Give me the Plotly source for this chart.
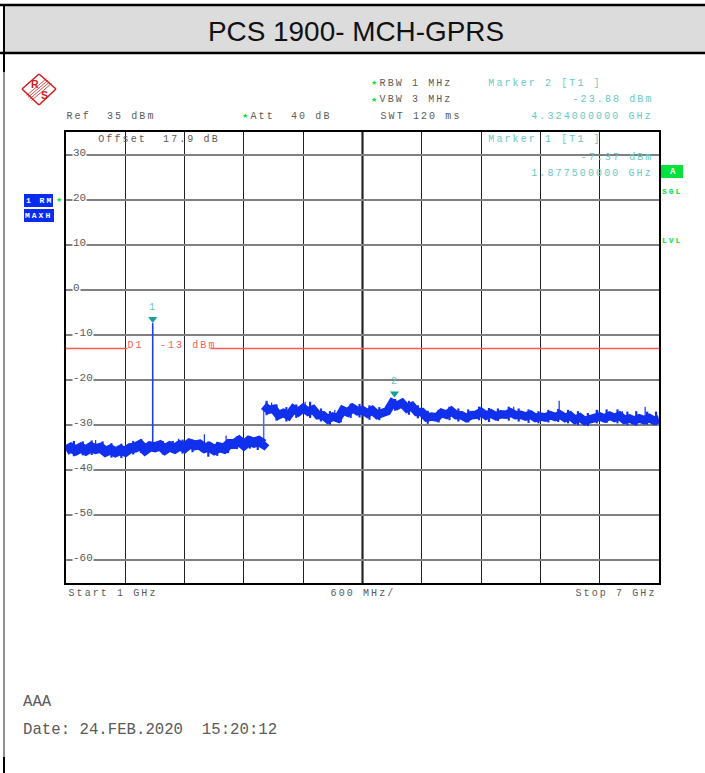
import plotly.graph_objects as go

W, H = 705, 773
L, R, T, B = 66, 659, 132, 583

title = "PCS 1900- MCH-GPRS"
x_range = [1, 7]
y_range = [-65, 35]
y_ticks = [30, 20, 10, 0, -10, -20, -30, -40, -50, -60]
limit_db = -13

low_freq = [1.00, 1.05, 1.10, 1.15, 1.20, 1.25, 1.30, 1.35, 1.40, 1.45, 1.50, 1.55, 1.60, 1.65,
            1.70, 1.75, 1.80, 1.85, 1.90, 1.95, 2.00, 2.05, 2.10, 2.15, 2.20, 2.25, 2.30, 2.35,
            2.40, 2.45, 2.50, 2.55, 2.60, 2.65, 2.70, 2.75, 2.80, 2.85, 2.90, 2.95, 3.00, 3.02]
low_db = [-35.6, -35.0, -35.6, -35.0, -35.6, -34.9, -35.3, -35.0, -35.9, -35.4, -36.0, -35.5, -35.9, -35.1,
          -35.0, -34.4, -35.5, -34.7, -34.9, -34.5, -35.4, -34.7, -35.2, -34.5, -35.0, -34.1, -34.5, -34.3,
          -35.1, -34.8, -35.5, -34.9, -35.2, -34.2, -34.2, -33.5, -34.4, -33.5, -33.9, -33.5, -34.2, -33.7]

high_freq = [3.00, 3.05, 3.10, 3.15, 3.20, 3.25, 3.30, 3.35, 3.40, 3.45, 3.50, 3.55, 3.60, 3.65, 3.70, 3.75,
             3.80, 3.85, 3.90, 3.95, 4.00, 4.05, 4.10, 4.15, 4.20, 4.25, 4.30, 4.35, 4.40, 4.45, 4.50, 4.55,
             4.60, 4.65, 4.70, 4.75, 4.80, 4.85, 4.90, 4.95, 5.00, 5.05, 5.10, 5.15, 5.20, 5.25, 5.30, 5.35,
             5.40, 5.45, 5.50, 5.55, 5.60, 5.65, 5.70, 5.75, 5.80, 5.85, 5.90, 5.95, 6.00, 6.05, 6.10, 6.15,
             6.20, 6.25, 6.30, 6.35, 6.40, 6.45, 6.50, 6.55, 6.60, 6.65, 6.70, 6.75, 6.80, 6.85, 6.90, 6.95, 7.00]
high_db = [-25.7, -26.6, -26.4, -27.8, -27.3, -27.9, -26.4, -27.1, -26.2, -27.0, -26.5, -27.8, -27.8, -28.7, -28.1, -28.5,
           -26.7, -27.2, -26.2, -26.9, -26.7, -27.4, -26.7, -27.7, -27.3, -26.9, -25.1, -25.7, -25.1, -26.3, -25.8, -27.1,
           -27.1, -28.3, -28.1, -28.3, -27.3, -27.7, -26.9, -27.8, -27.8, -28.4, -27.8, -27.7, -27.1, -27.9, -27.4, -28.0,
           -27.6, -27.7, -27.2, -27.8, -27.7, -28.1, -27.7, -28.4, -28.1, -28.3, -27.8, -28.2, -27.7, -28.4, -27.9, -28.8,
           -28.3, -29.1, -28.7, -28.6, -28.1, -28.5, -27.9, -28.4, -27.9, -28.8, -28.5, -29.0, -28.5, -28.9, -28.4, -29.0, -28.7]

# isolated samples standing out of the trace
spike_freq = [2.40, 2.62, 5.99, 6.86, 3.08, 5.20, 1.30, 3.42, 3.72, 5.53, 6.38, 6.63, 2.14]
spike_base = [-34.0, -33.5, -28.0, -28.5, -27.0, -27.5, -35.0, -26.5, -28.0, -27.5, -28.5, -28.5, -34.5]
spike_peak = [-32.0, -32.3, -24.6, -25.9, -25.0, -25.9, -33.3, -24.8, -26.6, -25.9, -26.7, -26.9, -33.0]

# top and bottom of the trace's noise at single frequencies
noise_freq = [1.08, 1.17, 1.26, 1.37, 1.46, 1.56, 1.68, 1.76, 1.98, 2.08, 2.18, 2.28, 2.44, 2.53, 2.64, 2.73, 2.86, 2.94,
              3.03, 3.13, 3.23, 3.33, 3.47, 3.58, 3.67, 3.78, 3.88, 3.97, 4.07, 4.17, 4.33, 4.47, 4.56, 4.66, 4.77, 4.88,
              4.97, 5.07, 5.18, 5.28, 5.37, 5.48, 5.58, 5.68, 5.78, 5.88, 5.98, 6.08, 6.18, 6.28, 6.37, 6.47, 6.58, 6.68,
              6.77, 6.88, 6.97]
noise_low = [-36.9, -36.7, -36.6, -36.6, -37.2, -37.3, -36.5, -36.2, -36.5, -36.2, -36.3, -36.0, -37.0, -36.8, -36.2, -35.3, -35.2, -35.5,
             -27.8, -29.0, -29.2, -28.4, -28.4, -29.2, -29.9, -29.4, -28.4, -28.3, -28.8, -28.9, -26.8, -27.7, -28.5, -29.7, -29.4, -28.9,
             -29.2, -29.4, -28.9, -29.3, -29.1, -29.0, -29.2, -29.5, -29.6, -29.4, -29.3, -29.6, -30.0, -30.2, -29.6, -29.5, -29.6, -30.0,
             -30.1, -29.9, -30.0]
noise_high = [-33.5, -33.6, -33.4, -33.6, -34.0, -34.1, -33.5, -33.1, -33.5, -33.5, -33.2, -33.2, -33.6, -33.7, -33.1, -32.5, -32.4, -32.6,
              -24.6, -25.4, -26.0, -25.4, -24.8, -26.3, -26.9, -26.5, -25.2, -25.3, -25.6, -26.0, -24.2, -24.6, -25.6, -26.8, -26.6, -25.9,
              -26.3, -26.5, -25.9, -26.2, -26.3, -25.9, -26.3, -26.5, -26.9, -26.6, -26.4, -26.6, -26.9, -27.3, -26.6, -26.5, -26.5, -27.0,
              -26.9, -27.0, -27.0]

jump_freq = [3.00, 3.00]
jump_db = [-33.5, -26.0]

marker_freq = [1.8775, 4.324]
marker_db = [-7.37, -23.88]
marker_base = [-34.0, -25.0]
marker_names = ["1", "2"]

GREY = "#5a5a5a"
CYAN = "#66c9c2"
RED = "#ff5a55"
GREEN = "#00e33c"
BLUE = "#1030ee"
MONO = "Liberation Mono"
SPACING = {10: 2.1, 8: 2.0}


def xp(px):
    return (px - L) / (R - L)


def yp(py):
    return 1 - (py - T) / (B - T)


notes = []


def note(text, px, py, color=GREY, size=10, family=MONO, bold=False):
    shift = len(text) * SPACING.get(size, 0) / 2
    notes.append(dict(text=f"<b>{text}</b>" if bold else text, xref="paper", yref="paper", x=xp(px + shift), y=yp(py),
                      xanchor="left", yanchor="middle", showarrow=False, borderpad=0,
                      font=dict(family=family, size=size, color=color)))


shapes = []


def rect(x0, y0, x1, y1, color):
    shapes.append(dict(type="rect", xref="paper", yref="paper", x0=xp(x0), x1=xp(x1), y0=yp(y0), y1=yp(y1),
                       fillcolor=color, line_width=0, layer="above"))


def seg(x0, y0, x1, y1, color="black", width=1.0, layer="above"):
    shapes.append(dict(type="line", xref="paper", yref="paper", x0=xp(x0), x1=xp(x1), y0=yp(y0), y1=yp(y1),
                       line=dict(color=color, width=width), layer=layer))


# title bar and sheet frame
rect(5, 6, W, 52, "#dcdcdc")
seg(0, 5, W, 5, width=2.4)
seg(0, 53, W, 53, width=2.4)
seg(4, 5, 4, 72, width=2)
seg(4, 72, 4, 757, color="#222222", width=1)
seg(4, 757, 4, 773, width=2)

# logo
LOGO = "#cc2020"
for a, b in [((39, 74), (56, 89)), ((56, 89), (39, 105)), ((39, 105), (22, 89)), ((22, 89), (39, 74))]:
    seg(a[0], a[1], b[0], b[1], color=LOGO, width=1.6)
for d in (-2.5, -0.8, 0.8, 2.5):
    seg(29 + d, 98 + d, 49 + d, 81 + d, color=LOGO, width=0.8)

# status boxes
rect(24, 194, 53, 207, "#0a2cf0")
rect(24, 209, 54, 222, "#0a2cf0")
rect(661, 165, 683, 178, GREEN)
# centre division is heavier
shapes.append(dict(type="line", xref="x", yref="paper", x0=4, x1=4, y0=0, y1=1,
                   line=dict(color="black", width=2), layer="below"))

note(title, 206.5, 31, color="#111111", size=27.9, family="Liberation Sans")
note("R", 29.5, 84, color=LOGO, size=10.5, family="Liberation Sans", bold=True)
note("S", 39.5, 95, color=LOGO, size=10.5, family="Liberation Sans", bold=True)

note("Ref  35 dBm", 65, 116)
note("★", 241, 116, color=GREEN, size=7, family="DejaVu Sans")
note("Att  40 dB", 249, 116)
note("★", 370, 83, color=GREEN, size=7, family="DejaVu Sans")
note("★", 370, 100, color=GREEN, size=7, family="DejaVu Sans")
note("RBW 1 MHz", 379, 83)
note("VBW 3 MHz", 379, 100)
note("SWT 120 ms", 379, 116)
note("Marker 2 [T1 ]", 487, 83, color=CYAN)
note("-23.88 dBm", 571, 100, color=CYAN)
note("4.324000000 GHz", 530, 116, color=CYAN)
note("Marker 1 [T1 ]", 487, 140, color=CYAN)
note("-7.37 dBm", 580, 157, color=CYAN)
note("1.877500000 GHz", 530, 173, color=CYAN)
note("Offset  17.9 dB", 97, 139)
note("D1  -13 dBm", 126, 345, color=RED)
note("Start 1 GHz", 67, 593)
note("600 MHz/", 330, 593)
note("Stop 7 GHz", 574, 593)
note("AAA", 21.5, 702, size=15.7)
note("Date: 24.FEB.2020  15:20:12", 21.5, 730, size=15.7)
note("A", 669, 172, color="white", size=9, bold=True)
note("SGL", 661, 191, color=GREEN, size=8, bold=True)
note("LVL", 661, 240, color=GREEN, size=8, bold=True)
note("1 RM", 25, 200.5, color="white", size=8, bold=True)
note("MAXH", 24, 215.5, color="white", size=8, bold=True)
note("★", 55, 200, color=GREEN, size=7, family="DejaVu Sans")

for v in y_ticks:
    notes.append(dict(text=str(v), xref="paper", yref="y", x=xp(72), y=v, yshift=2, xanchor="left",
                      yanchor="middle", showarrow=False, borderpad=0, bgcolor="white",
                      font=dict(family=MONO, size=11, color=GREY)))

for f, d, n in zip(marker_freq, marker_db, marker_names):
    notes.append(dict(text=n, xref="x", yref="y", x=f, y=d, yshift=16, xanchor="center", yanchor="middle",
                      showarrow=False, font=dict(family=MONO, size=10, color=CYAN)))

fig = go.Figure()
fig.add_trace(go.Scatter(x=[1, 1.62, None, 2.46, 7],
                         y=[limit_db, limit_db, None, limit_db, limit_db],
                         mode="lines", line=dict(color=RED, width=1.4), showlegend=False))
fig.add_trace(go.Scatter(x=jump_freq, y=jump_db, mode="lines",
                         line=dict(color="#4a66f2", width=1.5), showlegend=False))
for f, b, p in zip(marker_freq[:1], marker_base, marker_db):
    fig.add_trace(go.Scatter(x=[f, f], y=[b, p], mode="lines",
                             line=dict(color="#2040ee", width=1.6), showlegend=False))
for f, b, p in zip(spike_freq, spike_base, spike_peak):
    fig.add_trace(go.Scatter(x=[f, f], y=[b, p], mode="lines",
                             line=dict(color=BLUE, width=1.2), showlegend=False))
noise_x, noise_y = [], []
for f, lo, hi in zip(noise_freq, noise_low, noise_high):
    noise_x += [f, f, None]
    noise_y += [lo, hi, None]
fig.add_trace(go.Scatter(x=noise_x, y=noise_y, mode="lines",
                         line=dict(color=BLUE, width=2.2), showlegend=False))
fig.add_trace(go.Scatter(x=low_freq, y=low_db, mode="lines",
                         line=dict(color=BLUE, width=10), showlegend=False))
fig.add_trace(go.Scatter(x=high_freq, y=high_db, mode="lines",
                         line=dict(color=BLUE, width=8.5), showlegend=False))
fig.add_trace(go.Scatter(x=marker_freq, y=[d + 0.9 for d in marker_db], mode="markers",
                         marker=dict(symbol="triangle-down", size=8, color="#14a098"), showlegend=False))

fig.update_layout(
    width=W, height=H, autosize=False,
    margin=dict(l=L, r=W - R, t=T, b=H - B),
    paper_bgcolor="white", plot_bgcolor="white",
    shapes=shapes, annotations=notes, showlegend=False,
    xaxis=dict(range=x_range, tick0=1, dtick=0.6, showgrid=True, gridcolor="#222222", gridwidth=1.2,
               showticklabels=False, ticks="", zeroline=False, showline=True, linecolor="black",
               linewidth=2, mirror=True),
    yaxis=dict(range=y_range, tickmode="array", tickvals=y_ticks, showgrid=True, gridcolor="#808080",
               gridwidth=1.6, showticklabels=False, ticks="", zeroline=False, showline=True,
               linecolor="black", linewidth=2, mirror=True),
)

post = """
document.body.style.margin = '0';
document.documentElement.style.overflow = 'hidden';
var st = document.createElement('style');
st.textContent = 'text.annotation-text[style*="font-size: 10px"]{letter-spacing:2.1px}'
  + 'text.annotation-text[style*="font-size: 8px"]{letter-spacing:2px}';
document.head.appendChild(st);
"""
fig.write_html("out.html", post_script=post, config={"displayModeBar": False})
